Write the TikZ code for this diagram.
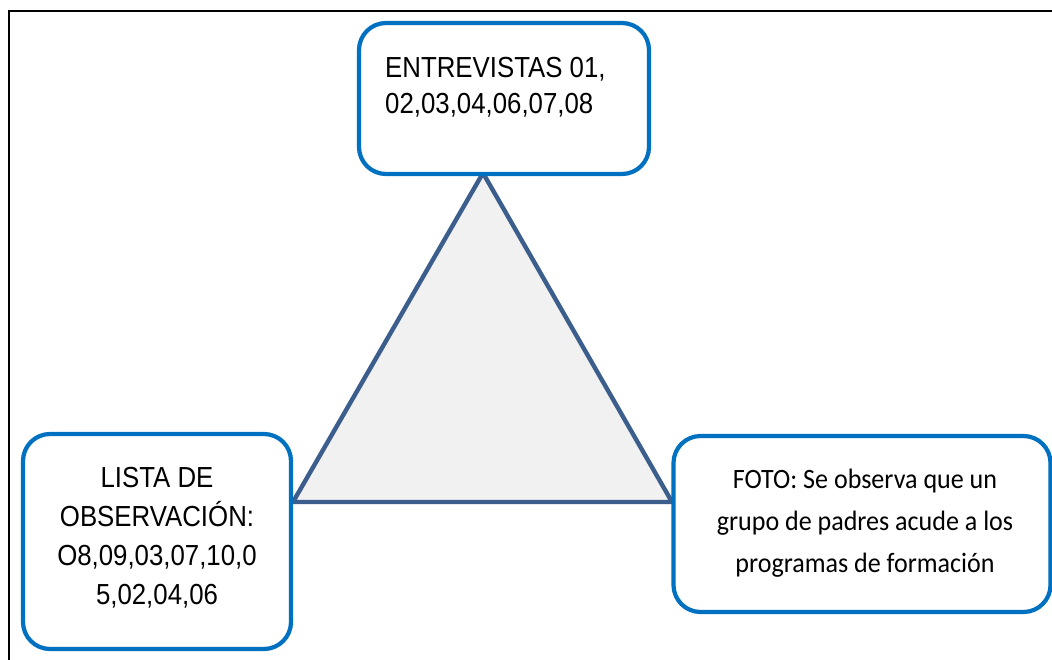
\documentclass[tikz,border=0pt]{standalone}
\usepackage{fontspec}
\setmainfont{Liberation Sans}
\newfontfamily\arialn[FakeStretch=0.89]{Liberation Sans}
\newfontfamily\calib[FakeStretch=0.93]{Carlito}
\definecolor{boxblue}{HTML}{0070C0}
\definecolor{triblue}{HTML}{3B5E8C}
\definecolor{trifill}{HTML}{F1F1F1}
\tikzset{
  roundbox/.style={draw=boxblue, line width=4.2pt, rounded corners=27pt, fill=white, inner sep=0pt},
  boxtext/.style={inner sep=0pt, text=black},
}
\begin{document}
\begin{tikzpicture}[x=1pt,y=-1pt]
\clip (0,0) rectangle (1052,659);
\fill[white] (0,0) rectangle (1052,659);
% outer frame
\draw[line width=2pt, black] (8.5,700) -- (8.5,11) -- (1100,11);
% triangle
\coordinate (apex) at (483,173);
\coordinate (bl) at (293,502);
\coordinate (br) at (672,502);
\draw[triblue, fill=trifill, line width=4.4pt, line join=miter] (apex) -- (bl) -- (br) -- cycle;
% boxes
\node[roundbox, minimum width=290pt, minimum height=151pt] (top) at (504,98.5) {};
\node[roundbox, minimum width=268pt, minimum height=215pt] (left) at (157,541.5) {};
\node[roundbox, minimum width=377pt, minimum height=176pt] (right) at (862,524) {};
% texts
\node[boxtext, anchor=north west, align=left, font=\arialn\fontsize{29}{36}\selectfont] (toptext) at (385,57.5) {ENTREVISTAS 01,\\02,03,04,06,07,08};
\node[boxtext, anchor=north, align=center, font=\arialn\fontsize{29}{39}\selectfont] (lefttext) at (157,467.5) {LISTA DE\\OBSERVACIÓN:\\O8,09,03,07,10,0\\5,02,04,06};
\node[boxtext, anchor=north, align=center, font=\calib\fontsize{28}{42}\selectfont] (righttext) at (865,469) {FOTO: Se observa que un\\grupo de padres acude a los\\programas de formación};
\end{tikzpicture}
\end{document}
